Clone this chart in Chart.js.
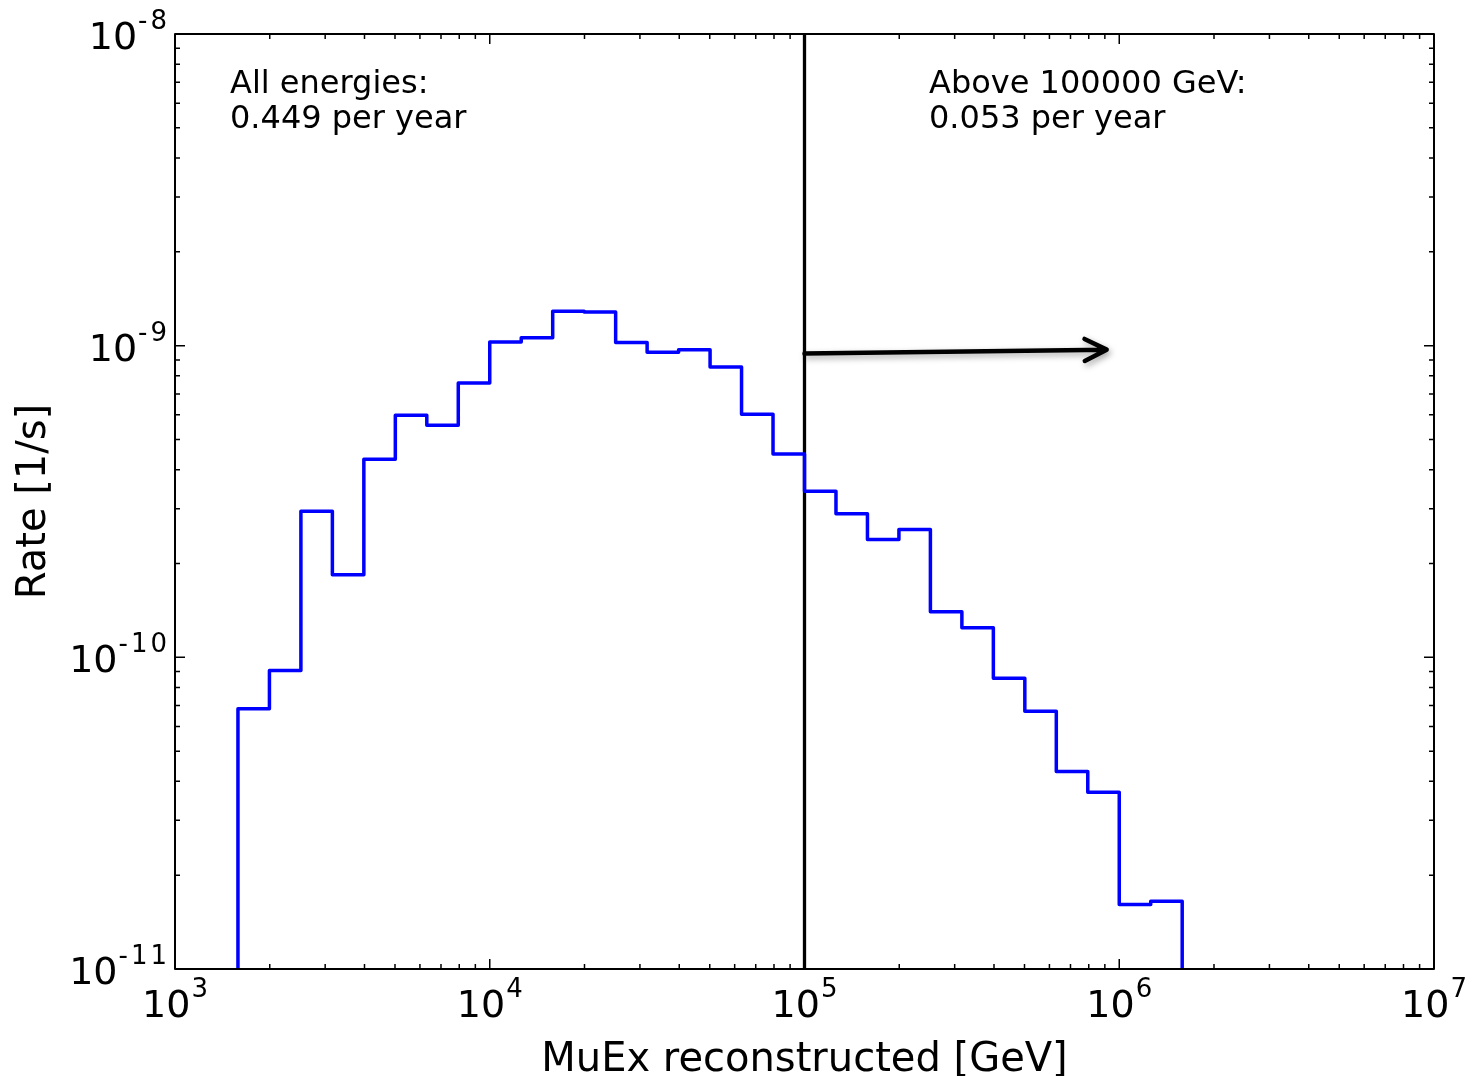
<!DOCTYPE html>
<html>
<head>
<meta charset="utf-8">
<title>MuEx reconstructed rate</title>
<script src="https://cdn.jsdelivr.net/npm/chart.js@4.4.0/dist/chart.umd.min.js"></script>
<style>
  body { margin: 0; background: #fff; }
  canvas { display: block; }
</style>
</head>
<body>
<canvas id="rateChart" width="1474" height="1076"></canvas>
<script>
// histogram bin edges, MuEx reconstructed energy [GeV] (10 bins per decade)
const binEdges = [
  1584.9, 1995.3, 2511.9, 3162.3, 3981.1, 5011.9, 6309.6, 7943.3,
  10000, 12589, 15849, 19953, 25119, 31623, 39811, 50119, 63096, 79433,
  100000, 125893, 158489, 199526, 251189, 316228, 398107, 501187, 630957, 794328,
  1000000, 1258925, 1584893
];
// rate in each bin [1/s]
const binRates = [
  6.84e-11, 9.08e-11, 2.94e-10, 1.84e-10, 4.32e-10, 5.98e-10, 5.55e-10, 7.59e-10,
  1.028e-9, 1.061e-9, 1.29e-9, 1.282e-9, 1.023e-9, 9.52e-10, 9.71e-10, 8.54e-10,
  6.02e-10, 4.49e-10, 3.41e-10, 2.89e-10, 2.39e-10, 2.57e-10, 1.40e-10, 1.245e-10,
  8.57e-11, 6.72e-11, 4.30e-11, 3.69e-11, 1.61e-11, 1.65e-11
];
const xPowers = [3, 4, 5, 6, 7];
const yPowers = [-11, -10, -9, -8];
const cutEnergy = 1e5;
const textAll = ['All energies:', '0.449 per year'];
const textAbove = ['Above 100000 GeV:', '0.053 per year'];
const arrowFrom = { x: 1e5, y: 9.43e-10 };
const arrowTo = { x: 9.12e5, y: 9.71e-10 };

const xMin = Math.pow(10, xPowers[0]), xMax = Math.pow(10, xPowers[xPowers.length - 1]);
const yMin = Math.pow(10, yPowers[0]), yMax = Math.pow(10, yPowers[yPowers.length - 1]);

// step outline: rise at first edge, flat tops, drop after last edge
let histPoints = [{ x: binEdges[0], y: yMin }];
for (let i = 0; i < binRates.length; i++) {
  histPoints.push({ x: binEdges[i], y: binRates[i] });
}
histPoints.push({ x: binEdges[binEdges.length - 1], y: yMin });

const FONT = '"DejaVu Sans", sans-serif';

function drawPow(ctx, power, x, y, align) {
  const base = '10', sup = String(power);
  ctx.letterSpacing = '0px';
  ctx.font = '38px ' + FONT;
  const wb = ctx.measureText(base).width;
  ctx.font = '26px ' + FONT;
  ctx.letterSpacing = '3px';
  const ws = ctx.measureText(sup).width;
  const x0 = align === 'center' ? x - (wb + ws) / 2 : x - wb - ws;
  ctx.textAlign = 'left';
  ctx.textBaseline = 'alphabetic';
  ctx.fillText(sup, x0 + wb + 1, y - 20);
  ctx.letterSpacing = '0px';
  ctx.font = '38px ' + FONT;
  ctx.fillText(base, x0, y);
}

const axesDecor = {
  id: 'axesDecor',
  afterDraw(chart) {
    const ctx = chart.ctx;
    const a = chart.chartArea;
    const xs = chart.scales.x, ys = chart.scales.y;
    ctx.save();

    // arrow towards high energies, with soft shadow
    const x1 = xs.getPixelForValue(arrowFrom.x), y1 = ys.getPixelForValue(arrowFrom.y);
    const x2 = xs.getPixelForValue(arrowTo.x), y2 = ys.getPixelForValue(arrowTo.y);
    const ang = Math.atan2(y2 - y1, x2 - x1);
    ctx.shadowColor = 'rgba(0,0,0,0.35)';
    ctx.shadowBlur = 6;
    ctx.shadowOffsetX = 2;
    ctx.shadowOffsetY = 3;
    ctx.strokeStyle = '#000';
    ctx.lineWidth = 4.5;
    ctx.lineCap = 'round';
    ctx.lineJoin = 'round';
    ctx.beginPath();
    ctx.moveTo(x1, y1);
    ctx.lineTo(x2, y2);
    ctx.moveTo(x2 - 22 * Math.cos(ang) + 11 * Math.sin(ang), y2 - 22 * Math.sin(ang) - 11 * Math.cos(ang));
    ctx.lineTo(x2, y2);
    ctx.lineTo(x2 - 22 * Math.cos(ang) - 11 * Math.sin(ang), y2 - 22 * Math.sin(ang) + 11 * Math.cos(ang));
    ctx.stroke();
    ctx.shadowColor = 'transparent';
    ctx.shadowBlur = 0;
    ctx.shadowOffsetX = 0;
    ctx.shadowOffsetY = 0;

    // frame
    ctx.lineCap = 'butt';
    ctx.lineWidth = 2;
    ctx.strokeRect(a.left, a.top, a.right - a.left, a.bottom - a.top);

    // inward ticks on all four sides
    ctx.lineWidth = 1.5;
    ctx.beginPath();
    for (let i = 0; i < xPowers.length; i++) {
      for (let k = 1; k < 10; k++) {
        if (i === xPowers.length - 1 && k > 1) break;
        const px = xs.getPixelForValue(k * Math.pow(10, xPowers[i]));
        const len = k === 1 ? 10 : 5;
        ctx.moveTo(px, a.bottom); ctx.lineTo(px, a.bottom - len);
        ctx.moveTo(px, a.top); ctx.lineTo(px, a.top + len);
      }
    }
    for (let i = 0; i < yPowers.length; i++) {
      for (let k = 1; k < 10; k++) {
        if (i === yPowers.length - 1 && k > 1) break;
        const py = ys.getPixelForValue(k * Math.pow(10, yPowers[i]));
        const len = k === 1 ? 10 : 5;
        ctx.moveTo(a.left, py); ctx.lineTo(a.left + len, py);
        ctx.moveTo(a.right, py); ctx.lineTo(a.right - len, py);
      }
    }
    ctx.stroke();

    // tick labels
    ctx.fillStyle = '#000';
    xPowers.forEach(p => drawPow(ctx, p, xs.getPixelForValue(Math.pow(10, p)) + 1, a.bottom + 48, 'center'));
    yPowers.forEach(p => drawPow(ctx, p, a.left - 6, ys.getPixelForValue(Math.pow(10, p)) + 15, 'right'));

    // axis titles
    ctx.font = '40px ' + FONT;
    ctx.textAlign = 'center';
    ctx.textBaseline = 'alphabetic';
    ctx.fillText('MuEx reconstructed [GeV]', (a.left + a.right) / 2, 1071);
    ctx.save();
    ctx.translate(45, (a.top + a.bottom) / 2);
    ctx.rotate(-Math.PI / 2);
    ctx.fillText('Rate [1/s]', 0, 0);
    ctx.restore();

    // rate summaries
    ctx.font = '32px ' + FONT;
    ctx.textAlign = 'left';
    textAll.forEach((t, i) => ctx.fillText(t, 230, 93 + i * 35));
    textAbove.forEach((t, i) => ctx.fillText(t, 929, 93 + i * 35));

    ctx.restore();
  }
};

const myChart = new Chart(document.getElementById('rateChart'), {
  type: 'line',
  data: {
    datasets: [
      {
        label: 'rate',
        data: histPoints,
        stepped: 'before',
        borderColor: '#0000ff',
        borderWidth: 3.5,
        borderJoinStyle: 'round',
        pointRadius: 0,
        fill: false
      },
      {
        label: 'cut',
        data: [{ x: cutEnergy, y: yMin }, { x: cutEnergy, y: yMax }],
        borderColor: '#000',
        borderWidth: 3.3,
        pointRadius: 0,
        fill: false
      }
    ]
  },
  options: {
    responsive: false,
    animation: false,
    devicePixelRatio: 1,
    events: [],
    layout: { padding: { left: 175, right: 40, top: 34, bottom: 107 } },
    scales: {
      x: { type: 'logarithmic', min: xMin, max: xMax, display: false },
      y: { type: 'logarithmic', min: yMin, max: yMax, display: false }
    },
    plugins: {
      legend: { display: false },
      tooltip: { enabled: false }
    }
  },
  plugins: [axesDecor]
});
</script>
</body>
</html>
